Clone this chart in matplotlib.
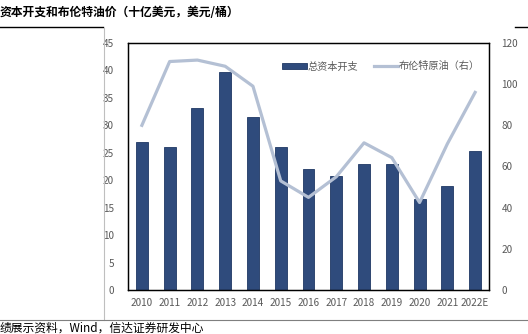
import numpy as np
import matplotlib
matplotlib.use("Agg")
import matplotlib.pyplot as plt
from matplotlib.lines import Line2D

plt.rcParams['font.family'] = ['Noto Sans CJK SC', 'DejaVu Sans']

# data
years = ['2010', '2011', '2012', '2013', '2014', '2015', '2016',
         '2017', '2018', '2019', '2020', '2021', '2022E']
capex = [27.0, 26.1, 33.1, 39.8, 31.6, 26.1, 22.0,
         20.8, 22.9, 22.9, 16.5, 18.9, 25.4]
brent = [80.0, 111.0, 111.7, 108.7, 99.0, 53.0, 45.0,
         55.0, 71.5, 64.3, 42.5, 71.0, 96.0]

bar_color = '#2F4B7C'
line_color = '#B4C0D4'
tick_color = '#595959'

fig = plt.figure(figsize=(5.28, 3.34), dpi=100)

# frame lines of the report page
fig.add_artist(Line2D([0, 103 / 528], [1 - 27 / 334, 1 - 27 / 334], color='black', lw=1.0))
fig.add_artist(Line2D([515 / 528, 1], [1 - 27 / 334, 1 - 27 / 334], color='black', lw=1.0))
fig.add_artist(Line2D([104 / 528, 104 / 528], [1 - 28 / 334, 1 - 320 / 334], color='#BFBFBF', lw=0.8))
fig.add_artist(Line2D([0, 1], [1 - 320 / 334, 1 - 320 / 334], color='#7F7F7F', lw=0.8))

fig.text(0.0, 1 - 13 / 334, '资本开支和布伦特油价（十亿美元，美元/桶）',
         fontsize=8.5, fontweight='bold', va='center', ha='left')
fig.text(0.0, 1 - 328 / 334, '绩展示资料，Wind，信达证券研发中心',
         fontsize=8.5, style='italic', va='center', ha='left')

ax = fig.add_axes([128 / 528, 44 / 334, 361 / 528, 247 / 334])
x = np.arange(len(years))
ax.bar(x, capex, width=0.43, color=bar_color, edgecolor='#1F3864', linewidth=0.6,
       label='总资本开支', zorder=2)
ax.set_xlim(-0.5, len(years) - 0.5)
ax.set_ylim(0, 45)
ax.set_yticks(np.arange(0, 46, 5))
ax.set_xticks(x)
ax.set_xticklabels(years)

ax2 = ax.twinx()
ax2.plot(x, brent, color=line_color, lw=2.3, label='布伦特原油（右）', zorder=3)
ax2.set_ylim(0, 120)
ax2.set_yticks(np.arange(0, 121, 20))

for a in (ax, ax2):
    for s in a.spines.values():
        s.set_color('black')
        s.set_linewidth(0.9)
    a.tick_params(length=0, colors=tick_color, labelsize=7.2)
ax.tick_params(axis='y', pad=10)
ax.tick_params(axis='x', pad=6)
ax2.tick_params(axis='y', pad=9)

h1, l1 = ax.get_legend_handles_labels()
h2, l2 = ax2.get_legend_handles_labels()
leg = ax2.legend(h1 + h2, l1 + l2, loc='center right', bbox_to_anchor=(1.0, 0.905),
                 ncol=2, frameon=False, fontsize=7.3, handlelength=2.4,
                 handleheight=0.6, columnspacing=1.5, handletextpad=0.1)
for t in leg.get_texts():
    t.set_color(tick_color)

fig.savefig('out.png', dpi=100)
